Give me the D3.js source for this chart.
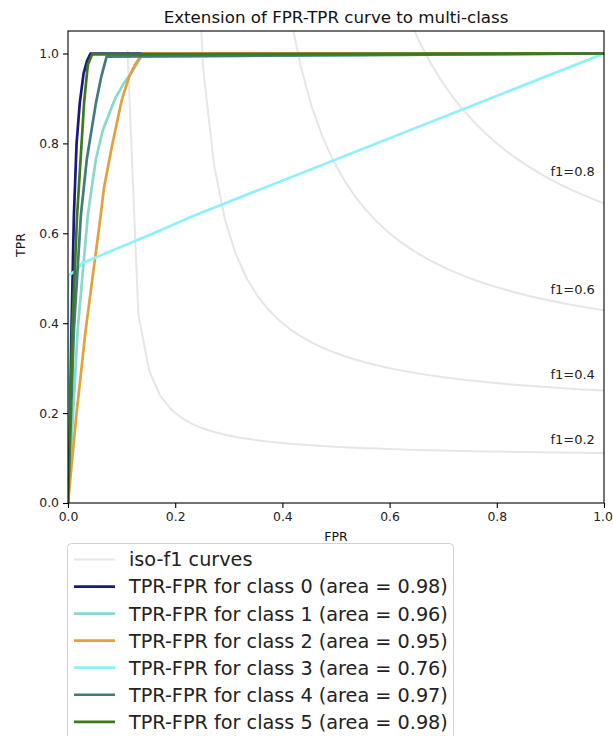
<!DOCTYPE html>
<html>
<head>
<meta charset="utf-8">
<script src="https://cdn.jsdelivr.net/npm/d3@7/dist/d3.min.js"></script>
<style>
  html, body { margin: 0; padding: 0; background: #fff; }
  svg { display: block; font-family: "DejaVu Sans", sans-serif; }
</style>
</head>
<body>
<svg id="chart" width="613" height="736"></svg>
<script>
// ---------------- data ----------------
const chartTitle = "Extension of FPR-TPR curve to multi-class";
const xTicks = [0.0, 0.2, 0.4, 0.6, 0.8, 1.0];
const yTicks = [0.0, 0.2, 0.4, 0.6, 0.8, 1.0];
const isoF1 = [0.2, 0.4, 0.6, 0.8];
const classIds = [0, 1, 2, 3, 4, 5];
const classAreas = [0.98, 0.96, 0.95, 0.76, 0.97, 0.98];
const classColors = ["#1a1a80", "#88d8cc", "#e5a03c", "#8ff0fa", "#437a7c", "#3b7a1c"];

const fpr0 = [0, 0.005, 0.011, 0.016, 0.022, 0.029, 0.036, 0.042, 1.0];
const tpr0 = [0, 0.30, 0.64, 0.80, 0.89, 0.955, 0.985, 1.0, 1.0];

const fpr1 = [0, 0.011, 0.018, 0.037, 0.044, 0.052, 0.065, 0.088, 0.105, 0.12, 0.137, 1.0];
const tpr1 = [0, 0.23, 0.385, 0.64, 0.70, 0.764, 0.83, 0.90, 0.935, 0.96, 0.993, 1.0];

const fpr2 = [0, 0.016, 0.033, 0.061, 0.067, 0.083, 0.100, 0.114, 0.125, 0.139, 1.0];
const tpr2 = [0, 0.20, 0.385, 0.64, 0.70, 0.80, 0.895, 0.948, 0.975, 1.0, 1.0];

const fpr3 = [0, 0, 0.017, 0.027, 0.16, 0.23, 1.0];
const tpr3 = [0, 0.505, 0.519, 0.534, 0.60, 0.637, 1.0];

const fpr4 = [0, 0.011, 0.024, 0.035, 0.052, 0.062, 0.072, 1.0];
const tpr4 = [0, 0.385, 0.64, 0.764, 0.889, 0.948, 0.993, 1.0];

const fpr5 = [0, 0.008, 0.017, 0.030, 0.037, 0.045, 1.0];
const tpr5 = [0, 0.385, 0.64, 0.89, 0.975, 0.998, 1.0];

const classFpr = [fpr0, fpr1, fpr2, fpr3, fpr4, fpr5];
const classTpr = [tpr0, tpr1, tpr2, tpr3, tpr4, tpr5];

// ---------------- layout ----------------
const svg = d3.select("#chart");
const L = 68, R = 604, T = 31, B = 503;
const x = d3.scaleLinear().domain([0, 1]).range([L, R]);
const y = d3.scaleLinear().domain([0, 1.05]).range([B, T]);

function fitText(sel, targetWidth) {
  const node = sel.node();
  const base = parseFloat(sel.attr("font-size"));
  const w = node.getComputedTextLength();
  if (w > 0) sel.attr("font-size", (base * targetWidth / w).toFixed(2));
  return sel;
}

svg.append("defs").append("clipPath").attr("id", "plotclip")
  .append("rect").attr("x", L).attr("y", T).attr("width", R - L).attr("height", B - T);

const plot = svg.append("g").attr("clip-path", "url(#plotclip)");

// iso-f1 curves (analytic reference curves: y = f*x / (2x - f))
const isoX = d3.range(50).map(i => 0.01 + i * (0.99 / 49));
const line = d3.line().x(d => x(d[0])).y(d => y(d[1]));
isoF1.forEach(f => {
  const pts = isoX.map(v => [v, f * v / (2 * v - f)]).filter(p => p[1] >= 0);
  plot.append("path").attr("d", line(pts))
    .attr("fill", "none").attr("stroke", "#e6e6e6").attr("stroke-width", 2);
});

// class curves
classIds.forEach((c, i) => {
  const pts = classFpr[i].map((v, j) => [v, classTpr[i][j]]);
  plot.append("path").attr("d", line(pts))
    .attr("fill", "none").attr("stroke", classColors[i]).attr("stroke-width", 2.7)
    .attr("stroke-linejoin", "round");
});

// iso labels
isoF1.forEach(f => {
  const xv = isoX[45];
  const yv = f * xv / (2 * xv - f) + 0.02;
  svg.append("text").attr("x", x(0.9)).attr("y", y(yv))
    .attr("font-size", 13).attr("fill", "#222")
    .text("f1=" + f.toFixed(1));
});

// spines
svg.append("rect").attr("x", L).attr("y", T).attr("width", R - L).attr("height", B - T)
  .attr("fill", "none").attr("stroke", "#000").attr("stroke-width", 1.1);

// axes
const xAxis = svg.append("g").attr("transform", `translate(0,${B})`)
  .call(d3.axisBottom(x).tickValues(xTicks).tickFormat(d3.format(".1f")).tickSize(5).tickPadding(4));
const yAxis = svg.append("g").attr("transform", `translate(${L},0)`)
  .call(d3.axisLeft(y).tickValues(yTicks).tickFormat(d3.format(".1f")).tickSize(5).tickPadding(4));
[xAxis, yAxis].forEach(a => {
  a.select(".domain").remove();
  a.selectAll("line").attr("stroke", "#000").attr("stroke-width", 1.1);
  a.selectAll("text").attr("font-size", 12.4).attr("fill", "#222")
    .attr("font-family", "DejaVu Sans, sans-serif");
});
// keep the last x tick label inside the canvas
xAxis.selectAll(".tick").filter(d => d === 1.0).select("text").attr("dx", "-1.5");

// title
const title = svg.append("text").attr("x", (L + R) / 2).attr("y", 23)
  .attr("text-anchor", "middle").attr("font-size", 16).attr("fill", "#111")
  .text(chartTitle);
fitText(title, 345);

// axis labels
svg.append("text").attr("x", (L + R) / 2).attr("y", 541)
  .attr("text-anchor", "middle").attr("font-size", 12.5).attr("fill", "#111").text("FPR");
svg.append("text").attr("transform", `translate(25,245) rotate(-90)`)
  .attr("text-anchor", "middle").attr("font-size", 12.5).attr("fill", "#111").text("TPR");

// legend
const lg = svg.append("g");
lg.append("rect").attr("x", 67.5).attr("y", 543.5).attr("width", 386).attr("height", 210)
  .attr("rx", 4).attr("fill", "#fff").attr("fill-opacity", 0.9)
  .attr("stroke", "#d0d0d0").attr("stroke-width", 1);
const legendItems = [{label: "iso-f1 curves", color: "#e6e6e6", w: 2}]
  .concat(classIds.map((c, i) => ({
    label: `TPR-FPR for class ${c} (area = ${classAreas[i].toFixed(2)})`,
    color: classColors[i], w: 2.7
  })));
legendItems.forEach((it, k) => {
  const cy = 559.5 + k * 27.05;
  lg.append("line").attr("x1", 74).attr("x2", 115).attr("y1", cy).attr("y2", cy)
    .attr("stroke", it.color).attr("stroke-width", it.w);
  const t = lg.append("text").attr("x", 129).attr("y", cy).attr("dy", "0.36em")
    .attr("font-size", 19).attr("fill", "#222").text(it.label);
  if (k === 1) fitText(t, 319);
});
// apply same legend font size to all entries
const fs = lg.selectAll("text").filter((d, i) => i === 1).attr("font-size");
lg.selectAll("text").attr("font-size", fs);
</script>
</body>
</html>
